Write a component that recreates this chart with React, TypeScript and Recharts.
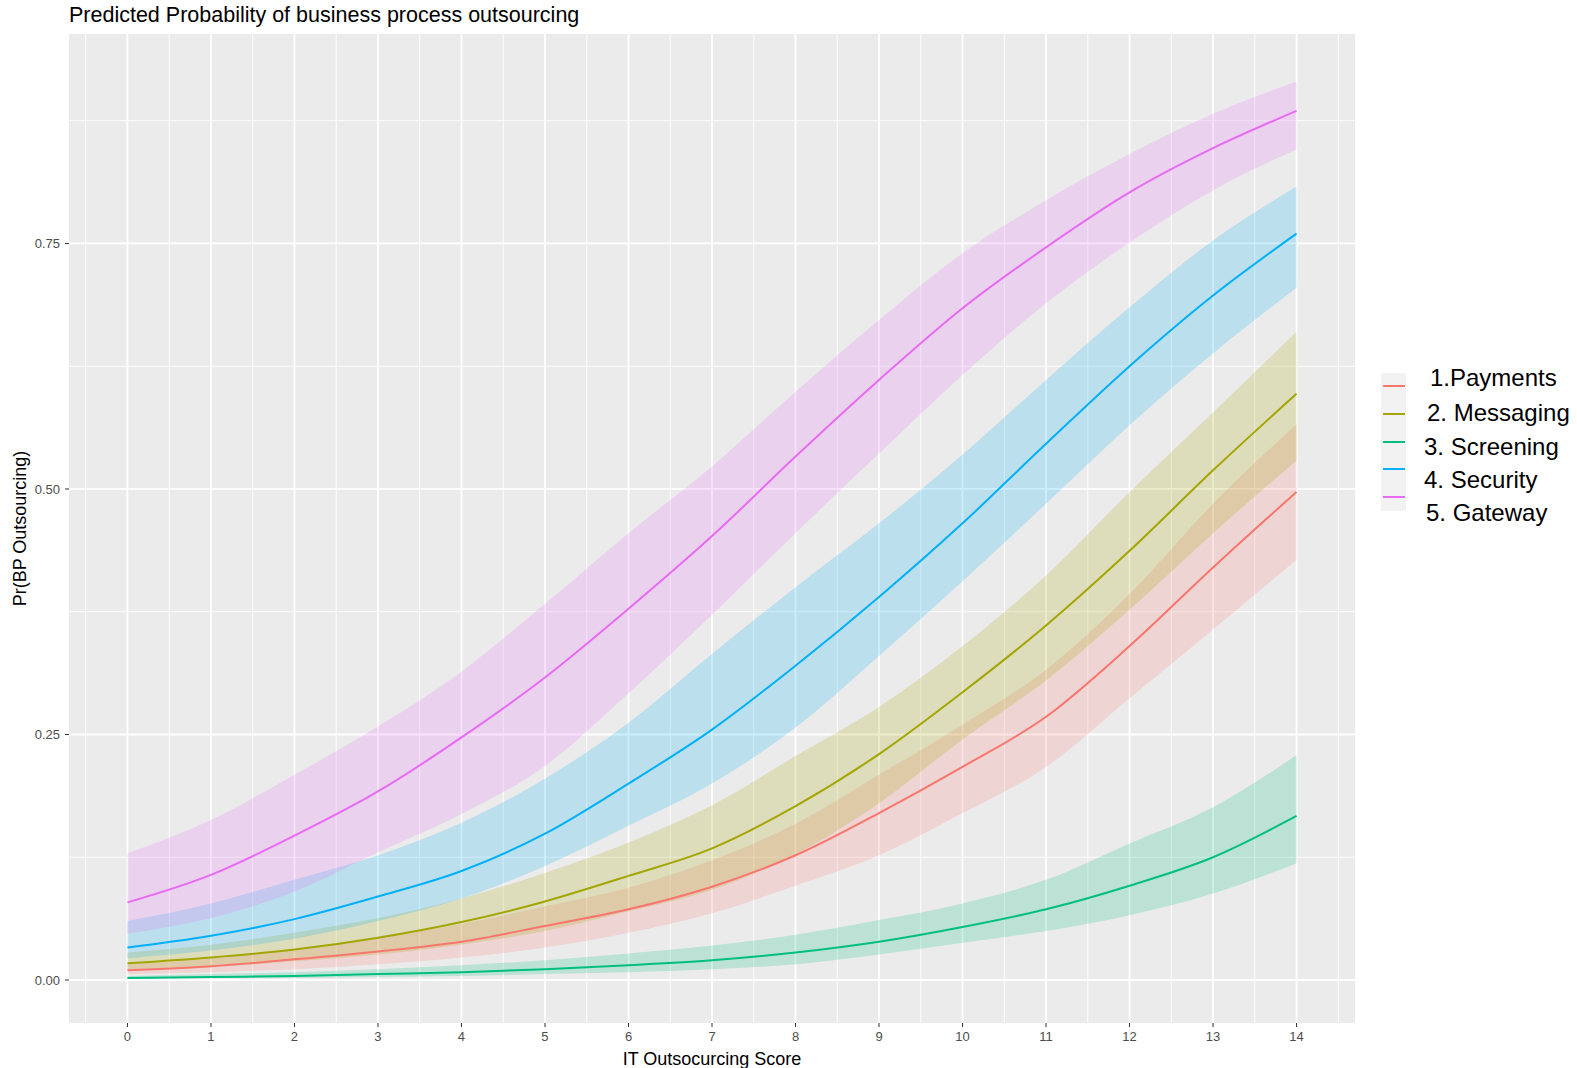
import React from 'react';
import { ComposedChart, Area, Line, XAxis, YAxis, CartesianGrid } from 'recharts';

// IT outsourcing score (x) and predicted probabilities
const scores = [0, 1, 2, 3, 4, 5, 6, 7, 8, 9, 10, 11, 12, 13, 14];

const paymentsFit = [0.010, 0.014, 0.021, 0.029, 0.039, 0.055, 0.072, 0.095, 0.127, 0.170, 0.217, 0.268, 0.340, 0.420, 0.497];
const paymentsLow = [0.006, 0.008, 0.011, 0.016, 0.023, 0.033, 0.048, 0.068, 0.096, 0.127, 0.170, 0.217, 0.287, 0.357, 0.428];
const paymentsHigh = [0.016, 0.022, 0.031, 0.043, 0.057, 0.075, 0.094, 0.122, 0.159, 0.209, 0.260, 0.316, 0.393, 0.485, 0.566];

const messagingFit = [0.017, 0.023, 0.031, 0.043, 0.059, 0.080, 0.106, 0.134, 0.177, 0.230, 0.293, 0.361, 0.437, 0.519, 0.597];
const messagingLow = [0.010, 0.013, 0.019, 0.026, 0.036, 0.050, 0.070, 0.092, 0.128, 0.180, 0.245, 0.305, 0.377, 0.455, 0.529];
const messagingHigh = [0.028, 0.036, 0.048, 0.063, 0.083, 0.109, 0.140, 0.178, 0.228, 0.278, 0.340, 0.412, 0.497, 0.578, 0.660];

const screeningFit = [0.002, 0.003, 0.004, 0.006, 0.008, 0.011, 0.015, 0.020, 0.028, 0.039, 0.054, 0.072, 0.096, 0.125, 0.167];
const screeningLow = [0.001, 0.002, 0.002, 0.003, 0.004, 0.006, 0.008, 0.011, 0.016, 0.026, 0.038, 0.050, 0.066, 0.088, 0.119];
const screeningHigh = [0.004, 0.006, 0.008, 0.011, 0.015, 0.020, 0.027, 0.035, 0.046, 0.061, 0.078, 0.102, 0.139, 0.176, 0.229];

const securityFit = [0.033, 0.045, 0.062, 0.085, 0.111, 0.149, 0.200, 0.255, 0.320, 0.390, 0.465, 0.546, 0.625, 0.697, 0.760];
const securityLow = [0.022, 0.030, 0.042, 0.060, 0.083, 0.116, 0.157, 0.200, 0.257, 0.330, 0.406, 0.485, 0.565, 0.638, 0.705];
const securityHigh = [0.060, 0.078, 0.102, 0.127, 0.160, 0.205, 0.262, 0.332, 0.400, 0.465, 0.535, 0.611, 0.685, 0.753, 0.808];

const gatewayFit = [0.079, 0.107, 0.147, 0.192, 0.247, 0.308, 0.378, 0.452, 0.533, 0.611, 0.684, 0.746, 0.802, 0.847, 0.885];
const gatewayLow = [0.047, 0.063, 0.090, 0.130, 0.169, 0.218, 0.292, 0.372, 0.455, 0.536, 0.616, 0.689, 0.751, 0.804, 0.846];
const gatewayHigh = [0.129, 0.163, 0.209, 0.258, 0.314, 0.383, 0.455, 0.523, 0.599, 0.672, 0.740, 0.794, 0.841, 0.882, 0.915];

const seriesNames = ['1.Payments', '2. Messaging', '3. Screening', '4. Security', '5. Gateway'];
const seriesColors = ['#F8766D', '#A3A500', '#00BF7D', '#00B0F6', '#E76BF3'];
const fits = [paymentsFit, messagingFit, screeningFit, securityFit, gatewayFit];
const lows = [paymentsLow, messagingLow, screeningLow, securityLow, gatewayLow];
const highs = [paymentsHigh, messagingHigh, screeningHigh, securityHigh, gatewayHigh];

const yTicks = [0, 0.25, 0.5, 0.75];
const xMinorGrid = [-0.5, 0.5, 1.5, 2.5, 3.5, 4.5, 5.5, 6.5, 7.5, 8.5, 9.5, 10.5, 11.5, 12.5, 13.5, 14.5];
const yMinorGrid = [0.125, 0.375, 0.625, 0.875];

const rows = scores.map((x, i) => {
  const row: Record<string, number | number[]> = { x };
  fits.forEach((f, s) => {
    row[`fit${s}`] = f[i];
    row[`band${s}`] = [lows[s][i], highs[s][i]];
  });
  return row;
});

const FONT = '"Liberation Sans", Arial, sans-serif';

// eslint-disable-next-line @typescript-eslint/no-explicit-any
const YTitle = (props: any) => {
  const { x, y, height } = props.viewBox;
  const cx = x + 1;
  const cy = y + height / 2;
  return (
    <text x={cx} y={cy} transform={`rotate(-90 ${cx} ${cy})`} textAnchor="middle" dominantBaseline="central"
      fontSize={18} fill="#000" fontFamily={FONT}>Pr(BP Outsourcing)</text>
  );
};

// eslint-disable-next-line @typescript-eslint/no-explicit-any
const XTitle = (props: any) => {
  const { x, y, width } = props.viewBox;
  return (
    <text x={x + width / 2} y={y + 42} textAnchor="middle" fontSize={18} fill="#000" fontFamily={FONT}>
      IT Outsocurcing Score
    </text>
  );
};

const legendTextTops = [365, 400, 434, 467, 500];
const legendTextLefts = [1430, 1427, 1424, 1424, 1426];

export default function App() {
  return (
    <div style={{ position: 'absolute', left: 0, top: 0, width: 1577, height: 1068, background: '#fff', fontFamily: FONT, overflow: 'hidden' }}>
      <div style={{ position: 'absolute', left: 69, top: 3, fontSize: 21.5, lineHeight: '24px', color: '#000' }}>
        Predicted Probability of business process outsourcing
      </div>
      <ComposedChart width={1577} height={1068} data={rows}
        margin={{ top: 34, right: 222, bottom: 0, left: 19 }}>
        <CartesianGrid fill="#EBEBEB" fillOpacity={1} stroke="#FFFFFF" strokeWidth={0.9}
          verticalValues={xMinorGrid} horizontalValues={yMinorGrid} />
        <CartesianGrid stroke="#FFFFFF" strokeWidth={1.8}
          verticalValues={scores} horizontalValues={yTicks} />
        <XAxis type="number" dataKey="x" domain={[-0.7, 14.7]} ticks={scores} allowDataOverflow
          height={45} axisLine={false} tickSize={4} tickMargin={5}
          tickLine={{ stroke: '#333333' }}
          tick={{ fill: '#4D4D4D', fontSize: 13, fontFamily: FONT }}
          label={<XTitle />} />
        <YAxis type="number" domain={[-0.0438, 0.9633]} ticks={yTicks} allowDataOverflow
          width={50} axisLine={false} tickSize={4} tickMargin={5}
          tickLine={{ stroke: '#333333' }}
          tickFormatter={(v: number) => v.toFixed(2)}
          tick={{ fill: '#4D4D4D', fontSize: 13, fontFamily: FONT }}
          label={<YTitle />} />
        {seriesColors.map((c, s) => (
          <Area key={`band-${s}`} type="monotone" dataKey={`band${s}`} stroke="none" fill={c}
            fillOpacity={0.2} isAnimationActive={false} activeDot={false} />
        ))}
        {seriesColors.map((c, s) => (
          <Line key={`fit-${s}`} type="monotone" dataKey={`fit${s}`} stroke={c} strokeWidth={2}
            dot={false} activeDot={false} isAnimationActive={false} />
        ))}
      </ComposedChart>
      {/* legend */}
      <div style={{ position: 'absolute', left: 1381, top: 373, width: 25, height: 138, background: '#F2F2F2' }} />
      {seriesColors.map((c, s) => (
        <div key={`key-${s}`} style={{ position: 'absolute', left: 1383, top: 385 + s * 27.75, width: 22, height: 2, background: c }} />
      ))}
      {seriesNames.map((n, s) => (
        <div key={`lab-${s}`} style={{ position: 'absolute', left: legendTextLefts[s], top: legendTextTops[s], fontSize: 24, lineHeight: '26px', color: '#000', whiteSpace: 'nowrap' }}>
          {n}
        </div>
      ))}
    </div>
  );
}
